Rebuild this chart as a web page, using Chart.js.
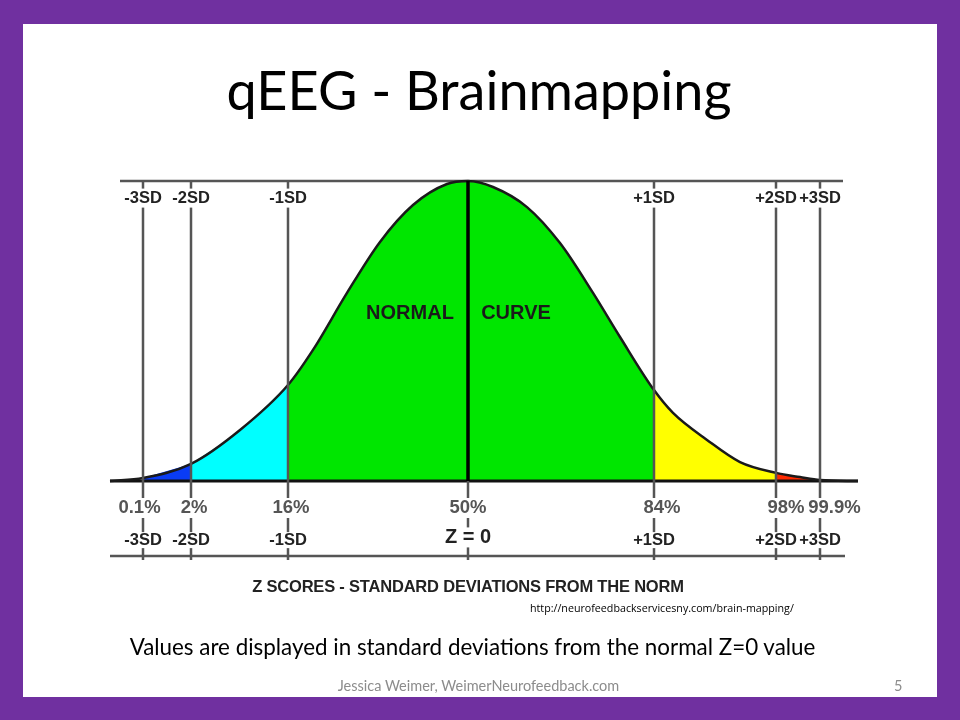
<!DOCTYPE html>
<html>
<head>
<meta charset="utf-8">
<script src="https://cdn.jsdelivr.net/npm/chart.js@4.4.1/dist/chart.umd.min.js"></script>
<style>
  html, body { margin: 0; padding: 0; }
  body { width: 960px; height: 720px; background: #7030a0; position: relative; overflow: hidden; font-family: Lato, "Open Sans", sans-serif; }
  #slide { position: absolute; left: 23px; top: 24px; width: 914px; height: 673px; background: #fff; }
  #chart { position: absolute; left: 0; top: 0; }
  .txt { position: absolute; white-space: nowrap; line-height: 1; }
  #title { left: 0; width: 958px; top: 63px; text-align: center; font-size: 54px; color: #000; }
  #axisTitle { left: 0; width: 936px; top: 577px; text-align: center; font: bold 16.5px "Liberation Sans", Arial, sans-serif; color: #222; letter-spacing: -0.2px; }
  #source { left: 530px; top: 603px; font-size: 10.7px; color: #000; font-family: "Open Sans", sans-serif; }
  #note { left: 0; width: 945px; top: 636px; text-align: center; font-size: 22.4px; color: #000; }
  #footer { left: 0; width: 957px; top: 679px; text-align: center; font-size: 14.5px; color: #8c8c8c; }
  #page { left: 894px; top: 679px; font-size: 14.5px; color: #8c8c8c; }
</style>
</head>
<body>
<div id="slide"></div>
<canvas id="chart" width="960" height="720"></canvas>
<div class="txt" id="title">qEEG - Brainmapping</div>
<div class="txt" id="axisTitle">Z SCORES - STANDARD DEVIATIONS FROM THE NORM</div>
<div class="txt" id="source">http://neurofeedbackservicesny.com/brain-mapping/</div>
<div class="txt" id="note">Values are displayed in standard deviations from the normal Z=0 value</div>
<div class="txt" id="footer">Jessica Weimer, WeimerNeurofeedback.com</div>
<div class="txt" id="page">5</div>
<script>
// positions along the drawing's horizontal axis (the picture is not to scale)
const sdPositions = [-3.25, -2.77, -1.80, 0, 1.86, 3.08, 3.52];
const sdLabels = ['-3SD', '-2SD', '-1SD', 'Z = 0', '+1SD', '+2SD', '+3SD'];
const percentLabels = ['0.1%', '2%', '16%', '50%', '84%', '98%', '99.9%'];

// curve height, peak = 100
const curveX = [-3.58, -3.25, -2.77, -2.28, -1.80, -1.55, -1.21, -0.88, -0.55, -0.21, 0,
  0.25, 0.59, 0.92, 1.25, 1.52, 1.86, 2.05, 2.39, 2.72, 3.08, 3.32, 3.52, 3.90];
const curveY = [0, 1.0, 5.7, 17, 32, 43.7, 62.7, 79.7, 92, 99, 100,
  98, 91.3, 79.3, 62.7, 48, 30.3, 22.7, 13.7, 6.3, 2.7, 1.3, 0.3, 0];

// shaded bands between the SD lines
const bandEdges = [-3.25, -2.77, -1.80, 1.86, 3.08, 3.52];
const bandColors = ['#0a3cf5', '#00ffff', '#00e600', '#ffff00', '#ff2a00'];

// frame rules
const baseRule = [-3.58, 3.90];
const topRule = [-3.48, 3.75];
const bottomRule = [-3.58, 3.77];
const bottomRuleY = -25;

// the percent labels sit a little right of their lines in the original
const percentShift = [-3.5, 3, 3, 0, 8, 10, 14.5];

const curve = curveX.map((x, i) => ({ x: x, y: curveY[i] }));

const bands = bandColors.map((c, i) => ({
  data: curve.filter(p => p.x >= bandEdges[i] && p.x <= bandEdges[i + 1]),
  backgroundColor: c,
  borderWidth: 0,
  fill: 'origin',
  pointRadius: 0,
  cubicInterpolationMode: 'monotone',
  order: 3
}));

const rule = (xs, yv, color, w) => ({
  data: xs.map(x => ({ x: x, y: yv })),
  borderColor: color,
  borderWidth: w,
  pointRadius: 0,
  fill: false,
  order: 2
});

const diagram = {
  id: 'diagram',
  afterDatasetsDraw(chart) {
    const { ctx, chartArea } = chart;
    const x = chart.scales.x, y = chart.scales.y;
    const base = y.getPixelForValue(0);
    ctx.save();
    sdPositions.forEach(v => {
      const px = x.getPixelForValue(v);
      ctx.beginPath();
      if (v === 0) {
        ctx.strokeStyle = '#000';
        ctx.lineWidth = 3.5;
        ctx.moveTo(px, chartArea.top);
        ctx.lineTo(px, base);
        ctx.stroke();
        ctx.beginPath();
        ctx.strokeStyle = '#555';
        ctx.lineWidth = 2.5;
        ctx.moveTo(px, base);
        ctx.lineTo(px, chartArea.bottom);
      } else {
        ctx.strokeStyle = '#555';
        ctx.lineWidth = 2.5;
        ctx.moveTo(px, chartArea.top);
        ctx.lineTo(px, chartArea.bottom);
      }
      ctx.stroke();
    });

    ctx.textAlign = 'center';
    ctx.textBaseline = 'middle';
    const label = (text, px, py, font, color, h) => {
      ctx.font = font;
      const w = ctx.measureText(text).width;
      ctx.fillStyle = '#fff';
      ctx.fillRect(px - w / 2 - 1, py - h / 2, w + 2, h);
      ctx.fillStyle = color;
      ctx.fillText(text, px, py);
    };
    const sdFont = 'bold 16.5px "Liberation Sans", Arial, sans-serif';
    sdPositions.forEach((v, i) => {
      const px = x.getPixelForValue(v);
      if (v !== 0) label(sdLabels[i], px, y.getPixelForValue(94.3), sdFont, '#222', 19);
      label(percentLabels[i], px + percentShift[i], y.getPixelForValue(-9), 'bold 18.5px "Liberation Sans", Arial, sans-serif', '#555', 20);
      if (v === 0) label(sdLabels[i], px, y.getPixelForValue(-18.8), 'bold 20px "Liberation Sans", Arial, sans-serif', '#222', 20);
      else label(sdLabels[i], px, y.getPixelForValue(-19.7), sdFont, '#222', 16);
    });

    ctx.font = 'bold 20px "Liberation Sans", Arial, sans-serif';
    ctx.fillStyle = '#1a1a1a';
    ctx.fillText('NORMAL', x.getPixelForValue(-0.58), y.getPixelForValue(56));
    ctx.fillText('CURVE', x.getPixelForValue(0.48), y.getPixelForValue(56));
    ctx.restore();
  }
};

new Chart(document.getElementById('chart'), {
  type: 'line',
  data: {
    datasets: [
      {
        data: curve,
        borderColor: '#1a1a1a',
        borderWidth: 2.5,
        pointRadius: 0,
        fill: false,
        cubicInterpolationMode: 'monotone',
        order: 0
      },
      rule(baseRule, 0, '#111', 3),
      rule(topRule, 100, '#555', 2.5),
      rule(bottomRule, bottomRuleY, '#555', 2.5),
      ...bands
    ]
  },
  options: {
    responsive: false,
    animation: false,
    layout: { padding: { left: 68, right: 92, top: 181, bottom: 160 } },
    scales: {
      x: { type: 'linear', min: -4, max: 4, display: false },
      y: { min: -26.33, max: 100, display: false }
    },
    plugins: { legend: { display: false }, tooltip: { enabled: false } },
    clip: false
  },
  plugins: [diagram]
});
</script>
</body>
</html>
